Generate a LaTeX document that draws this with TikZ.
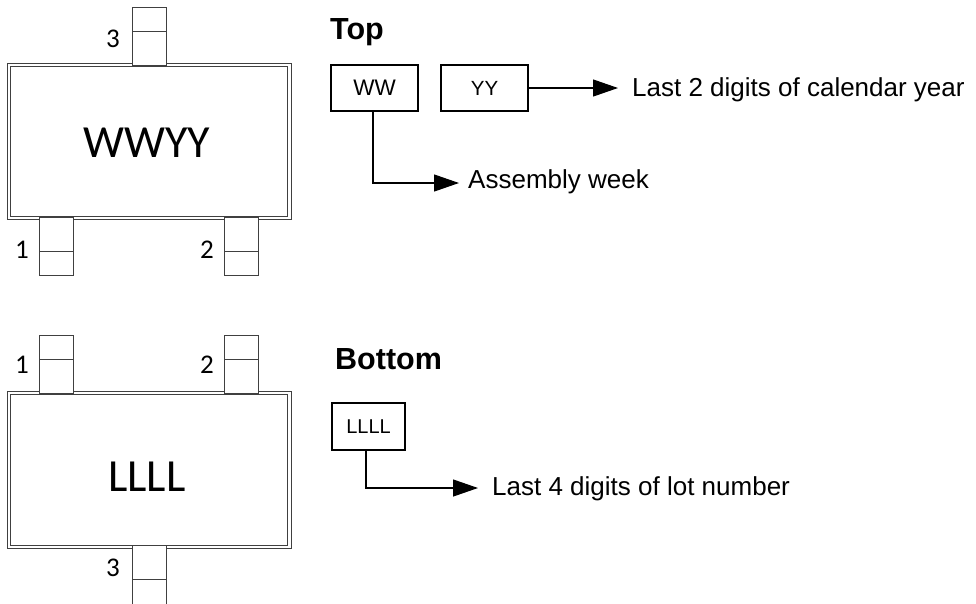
\documentclass[tikz,border=0pt]{standalone}
\usepackage{fontspec}
\setmainfont{Liberation Sans}
\newfontfamily\calfont{Carlito}
\usetikzlibrary{arrows.meta}
\begin{document}
\begin{tikzpicture}[x=1pt,y=-1pt,
  pkg/.style={draw=black!75,line width=1pt},
  pinbox/.style={draw=black!75,line width=1pt,fill=white},
  pinlbl/.style={font=\calfont\fontsize{27}{27}\selectfont,inner sep=0pt},
  bigtxt/.style={font=\calfont\fontsize{46}{46}\selectfont,inner sep=0pt},
  title/.style={font=\bfseries\fontsize{30.5}{30.5}\selectfont,inner sep=0pt,anchor=base west},
  field/.style={draw,line width=1.2pt,minimum width=87pt,minimum height=46pt,inner sep=0pt,font=\fontsize{20.5}{20.5}\selectfont},
  desc/.style={font=\fontsize{26}{26}\selectfont,inner sep=0pt,anchor=base west},
  conn/.style={line width=1.2pt,-{Triangle[length=25pt,width=17pt]}}]
\useasboundingbox (0,0) rectangle (976,603);
% ---------- top package ----------
\draw[pkg] (7,63) rectangle (291,219);
\draw[pkg] (10,66) rectangle (287,216);
\draw[pinbox] (132,7) rectangle (166,65);
\draw[pkg] (132,31) -- (166,31);
\draw[pinbox] (39,217) rectangle (73,275);
\draw[pkg] (39,251) -- (73,251);
\draw[pinbox] (224,217) rectangle (258,275);
\draw[pkg] (224,251) -- (258,251);
\node[pinlbl] (t3) at (113,39) {3};
\node[pinlbl] (t1) at (22,250) {1};
\node[pinlbl] (t2) at (207,250) {2};
\node[bigtxt] (tmark) at (147,143) {WWYY};
% ---------- bottom package ----------
\draw[pkg] (7,391) rectangle (291,548);
\draw[pkg] (10,394) rectangle (287,545);
\draw[pinbox] (39,335) rectangle (73,393);
\draw[pkg] (39,359) -- (73,359);
\draw[pinbox] (224,335) rectangle (258,393);
\draw[pkg] (224,359) -- (258,359);
\fill[white] (132,546) rectangle (166,604);
\draw[pkg] (132,546) -- (132,604) (166,546) -- (166,604) (132,579) -- (166,579);
\node[pinlbl] (b1) at (22,365) {1};
\node[pinlbl] (b2) at (207,365) {2};
\node[pinlbl] (b3) at (113,568) {3};
\node[bigtxt] (bmark) at (147,477) {LLLL};
% ---------- top legend ----------
\node[title] (toptitle) at (330,39) {Top};
\node[field,font=\fontsize{22.5}{22.5}\selectfont] (ww) at (374.5,88) {WW};
\node[field] (yy) at (484.5,88) {YY};
\coordinate (yyend) at (618,88);
\draw[conn] (yy.east) -- (yyend);
\node[desc] (yydesc) at (632,96) {Last 2 digits of calendar year};
\coordinate (wwend) at (459,183);
\draw[conn] (ww.south -| 373,0) |- (wwend);
\node[desc] (wwdesc) at (468,188) {Assembly week};
% ---------- bottom legend ----------
\node[title] (bottitle) at (335,369) {Bottom};
\node[field,minimum width=73pt,minimum height=47pt,font=\fontsize{20}{20}\selectfont] (ll) at (368.5,426.5) {LLLL};
\coordinate (llend) at (478,488);
\draw[conn] (ll.south -| 366,0) |- (llend);
\node[desc] (lldesc) at (492,495) {Last 4 digits of lot number};
\end{tikzpicture}
\end{document}
